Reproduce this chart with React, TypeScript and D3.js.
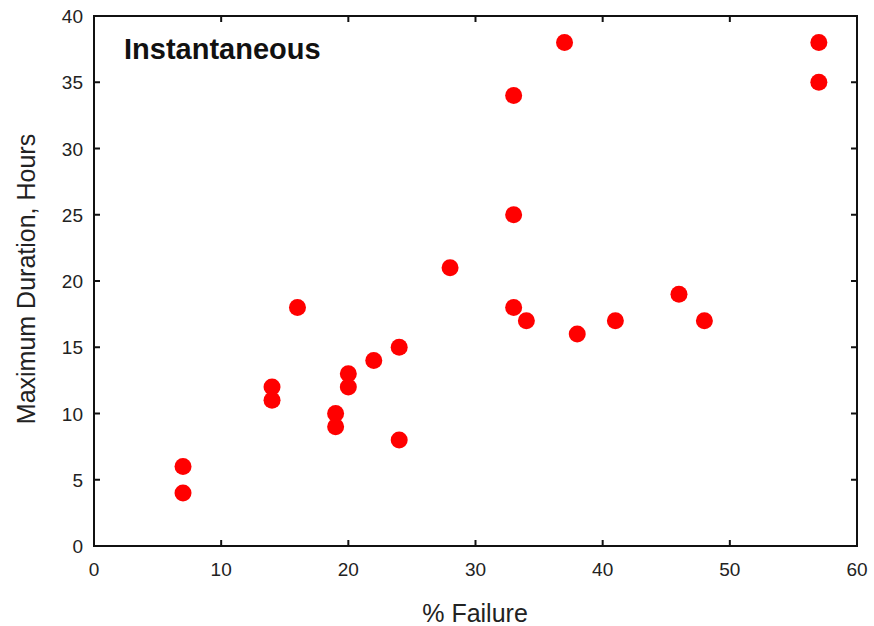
import React from "react";
import * as d3 from "d3";

const failurePct = [7, 7, 14, 14, 16, 19, 19, 20, 20, 22, 24, 24, 28, 33, 33, 33, 34, 37, 38, 41, 46, 48, 57, 57];
const durationHours = [6, 4, 12, 11, 18, 10, 9, 13, 12, 14, 15, 8, 21, 34, 25, 18, 17, 38, 16, 17, 19, 17, 38, 35];
const xTicks = [0, 10, 20, 30, 40, 50, 60];
const yTicks = [0, 5, 10, 15, 20, 25, 30, 35, 40];

const W = 874;
const H = 626;
const left = 94, right = 857, top = 16, bottom = 546;
const font = "Arial, 'Liberation Sans', sans-serif";

export default function App() {
  const x = d3.scaleLinear().domain([0, 60]).range([left, right]);
  const y = d3.scaleLinear().domain([0, 40]).range([bottom, top]);
  const tl = 6;
  const stroke = "#111";
  return (
    <svg width={W} height={H} style={{ position: "absolute", left: 0, top: 0 }}>
      <rect x={0} y={0} width={W} height={H} fill="#fff" />
      {failurePct.map((v, i) => (
        <circle key={i} cx={x(v)} cy={y(durationHours[i])} r={8.5} fill="#ff0000" />
      ))}
      <rect x={left} y={top} width={right - left} height={bottom - top} fill="none" stroke={stroke} strokeWidth={2} />
      {xTicks.map((t) => (
        <g key={"x" + t}>
          {t > 0 && t < 60 && (
            <>
              <line x1={x(t)} x2={x(t)} y1={bottom} y2={bottom - tl} stroke={stroke} strokeWidth={2} />
              <line x1={x(t)} x2={x(t)} y1={top} y2={top + tl} stroke={stroke} strokeWidth={2} />
            </>
          )}
          <text x={x(t)} y={576} textAnchor="middle" fontFamily={font} fontSize={19} fill="#222">{t}</text>
        </g>
      ))}
      {yTicks.map((t) => (
        <g key={"y" + t}>
          {t > 0 && t < 40 && (
            <>
              <line x1={left} x2={left + tl} y1={y(t)} y2={y(t)} stroke={stroke} strokeWidth={2} />
              <line x1={right} x2={right - tl} y1={y(t)} y2={y(t)} stroke={stroke} strokeWidth={2} />
            </>
          )}
          <text x={83} y={y(t) + 7} textAnchor="end" fontFamily={font} fontSize={19} fill="#222">{t}</text>
        </g>
      ))}
      <text x={124} y={59} fontFamily={font} fontSize={29} fontWeight="bold" fill="#111">Instantaneous</text>
      <text x={475} y={622} textAnchor="middle" fontFamily={font} fontSize={25} fill="#222">% Failure</text>
      <text transform={`translate(35,279) rotate(-90)`} textAnchor="middle" fontFamily={font} fontSize={25} fill="#222">Maximum Duration, Hours</text>
    </svg>
  );
}
